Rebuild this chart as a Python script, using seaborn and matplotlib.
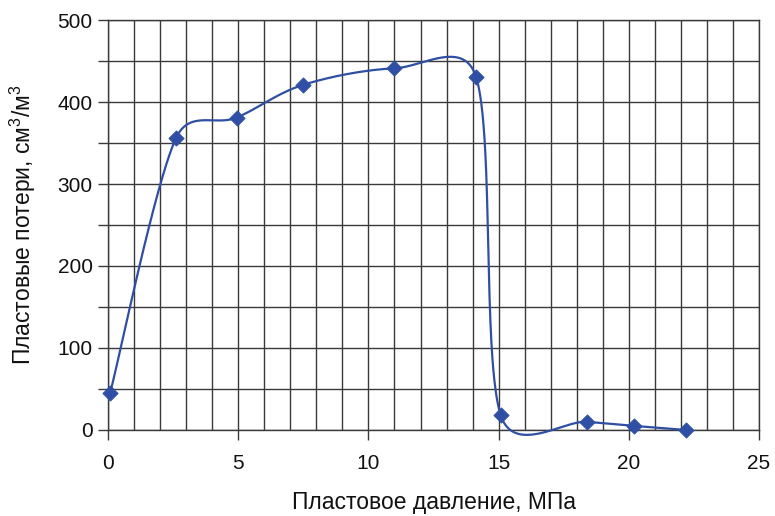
import numpy as np
import pandas as pd
import matplotlib
matplotlib.use("Agg")
import matplotlib.pyplot as plt
import seaborn as sns
from matplotlib.ticker import MultipleLocator

# данные
pressure = [0.08, 2.61, 4.94, 7.50, 10.98, 14.14, 15.08, 18.38, 20.20, 22.20]
losses = [45, 356, 381, 421, 441, 430, 18, 10, 5, 0]

line_color = "#2E4FA3"

sns.set_theme(style="white")
plt.rcParams["font.family"] = ["Liberation Sans", "DejaVu Sans"]
plt.rcParams["mathtext.default"] = "regular"
plt.rcParams["text.color"] = "#111111"
plt.rcParams["axes.labelcolor"] = "#111111"
plt.rcParams["xtick.labelcolor"] = "#111111"
plt.rcParams["ytick.labelcolor"] = "#111111"


# сглаживание как в Excel: Безье, контрольные точки = 1/6 разности соседей,
# но не дальше половины длины сегмента (считается в пикселях)
def smooth_curve(x, y, ax, n=80):
    p = ax.transData.transform(np.column_stack([x, y]).astype(float))
    pts = []
    for i in range(len(p) - 1):
        p0 = p[i - 1] if i > 0 else p[i]
        p3 = p[i + 2] if i + 2 < len(p) else p[i + 1]
        seg_len = np.linalg.norm(p[i + 1] - p[i])
        d1 = (p[i + 1] - p0) / 6
        d2 = (p3 - p[i]) / 6
        for d in (d1, d2):
            dl = np.linalg.norm(d)
            if dl > seg_len / 2:
                d *= (seg_len / 2) / dl
        c1 = p[i] + d1
        c2 = p[i + 1] - d2
        t = np.linspace(0, 1, n)[:, None]
        seg = ((1 - t) ** 3 * p[i] + 3 * (1 - t) ** 2 * t * c1
               + 3 * (1 - t) * t ** 2 * c2 + t ** 3 * p[i + 1])
        pts.append(seg if i == 0 else seg[1:])
    pts = ax.transData.inverted().transform(np.vstack(pts))
    return pd.DataFrame({"x": pts[:, 0], "y": pts[:, 1]})


fig = plt.figure(figsize=(7.75, 5.16), dpi=100)
ax = fig.add_axes([0.1394, 0.1667, 0.84, 0.7945])
ax.set_xlim(0, 25)
ax.set_ylim(0, 500)

curve = smooth_curve(pressure, losses, ax)
points = pd.DataFrame({"x": pressure, "y": losses})

sns.lineplot(data=curve, x="x", y="y", sort=False, color=line_color,
             linewidth=1.6, ax=ax, zorder=3)
for ln in ax.lines:
    ln.set_clip_on(False)
sns.scatterplot(data=points, x="x", y="y", marker="D", s=60, color=line_color,
                edgecolor=line_color, ax=ax, zorder=4, clip_on=False)

ax.set_xlim(0, 25)
ax.set_ylim(0, 500)
ax.xaxis.set_major_locator(MultipleLocator(5))
ax.xaxis.set_minor_locator(MultipleLocator(1))
ax.yaxis.set_major_locator(MultipleLocator(100))
ax.yaxis.set_minor_locator(MultipleLocator(50))

ax.grid(True, which="both", color="#3a3a3a", linewidth=1.0)
ax.tick_params(axis="x", which="major", direction="out", length=7, width=1,
               color="#3a3a3a", labelsize=15, pad=10, bottom=True)
ax.tick_params(axis="x", which="minor", length=0)
ax.tick_params(axis="y", which="both", direction="out", length=7, width=1,
               color="#3a3a3a", labelsize=15, pad=4, left=True)
for sp in ax.spines.values():
    sp.set_color("#3a3a3a")
    sp.set_linewidth(1.0)

ax.set_xlabel("Пластовое давление, МПа", fontsize=16.5, labelpad=13)
ax.set_ylabel("Пластовые потери, см$^3$/м$^3$", fontsize=16.5, labelpad=14)

fig.savefig("out.png", dpi=100)
plt.close(fig)
